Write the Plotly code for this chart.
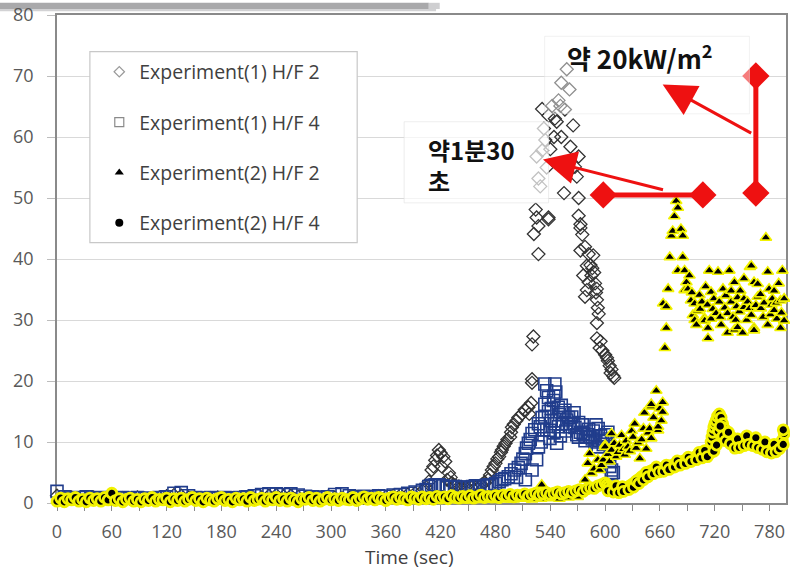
import plotly.graph_objects as go

# ---------------------------------------------------------------
# Heat release measurements (kW/m^2) against time (sec)
# ---------------------------------------------------------------

# Experiment(1) H/F 2 - baseline sampled every 8 s (0-400 s)
exp1_hf2_base_t = list(range(0, 401, 8))
exp1_hf2_base_v = [1.2, 0.8, 0.9, 0.7, 0.8, 0.9, 0.7, 0.8, 0.6, 0.8,
                   0.7, 0.9, 0.7, 0.8, 0.9, 1.1, 1.3, 1.2, 0.9, 0.8,
                   0.7, 0.8, 0.9, 0.7, 0.8, 0.9, 0.8, 0.7, 0.9, 1.2,
                   1.3, 1.1, 1.2, 1.0, 0.9, 0.8, 0.9, 1.0, 0.9, 0.8,
                   0.9, 1.0, 0.9, 1.0, 1.1, 1.0, 1.2, 1.3, 1.4, 1.6,
                   2.0]
# Experiment(1) H/F 2 - ignition and peak (t, value)
exp1_hf2_peak = [
    (404, 2.6), (407, 3.5), (410, 5.4), (412, 6.0), (414, 7.0), (416, 7.8),
    (418, 8.7), (420, 8.2), (421, 6.0), (423, 7.6), (425, 6.8), (427, 3.8),
    (429, 4.9), (431, 4.2), (432, 3.3), (434, 3.0), (437, 2.8), (440, 2.7),
    (443, 2.6), (447, 2.5), (450, 2.4), (454, 2.5), (458, 2.5), (462, 2.7),
    (465, 3.0), (468, 3.4), (472, 3.8), (474, 4.6), (476, 5.4), (478, 6.0),
    (480, 6.5), (482, 7.2), (484, 7.6), (486, 8.3), (487, 8.7), (489, 9.3),
    (491, 9.8), (493, 10.4), (496, 10.8), (497, 11.6), (498, 12.4), (500, 12.9),
    (503, 13.5), (505, 14.0), (509, 14.6), (512, 15.3), (516, 15.7), (517, 14.6),
    (519, 16.4), (520, 19.7), (520, 20.3), (520, 26.0), (521.5, 27.3),
    (527, 40.8), (522, 44.1), (527, 45.4), (525, 46.8), (538, 46.5), (538, 46.8),
    (524, 48.1), (529, 51.9), (527, 53.2), (525, 56.8), (531, 57.8), (534.5, 59.5),
    (533, 61.4), (544, 60.0), (538, 63.5), (531, 64.6), (542, 65.1), (551, 65.1),
    (552, 60.0), (552, 68.9), (558, 71.1), (561, 67.8), (565, 61.9), (562, 58.4),
    (547, 62.5), (549, 66.0), (545, 63.0), (556, 64.5), (540, 58.0), (536, 55.0),
    (571, 56.8), (567, 55.1), (569, 53.5), (555, 50.8), (571, 50.0), (571, 47.1),
    (573, 45.7), (573, 45.1), (575, 44.0), (578, 42.0), (573, 41.4), (582, 40.8),
    (587, 40.6), (580, 38.9), (584, 39.0), (586, 38.5), (576, 37.3), (585, 37.3),
    (588, 37.8), (582, 36.2), (589, 36.0), (580, 34.9), (591, 35.1), (590, 34.5),
    (578, 33.8), (591, 33.3), (592, 32.0), (593, 31.0), (591, 29.5), (591, 27.0),
    (595, 26.5), (597, 25.0), (594, 25.4), (600, 24.3), (602, 23.8), (603, 23.3),
    (605, 22.5), (606, 21.3), (607, 21.9), (609, 20.8), (610, 20.5),
]

# Experiment(1) H/F 4 - baseline sampled every 8 s (0-400 s)
exp1_hf4_base_t = list(range(0, 401, 8))
exp1_hf4_base_v = [1.9, 1.0, 0.8, 0.9, 1.0, 0.8, 0.9, 0.8, 0.7, 0.9,
                   0.8, 0.9, 0.8, 0.7, 0.9, 1.0, 1.6, 1.7, 1.2, 0.9,
                   0.8, 0.9, 0.8, 0.9, 0.8, 0.9, 1.0, 1.2, 1.4, 1.5,
                   1.5, 1.4, 1.5, 1.3, 1.1, 1.0, 0.9, 1.0, 1.4, 1.5,
                   1.2, 1.0, 1.1, 1.0, 1.2, 1.1, 1.3, 1.4, 1.6, 1.8,
                   2.1]
# Experiment(1) H/F 4 - ignition and peak (t, value)
exp1_hf4_peak = [
    (404, 2.2), (407, 2.7), (410, 2.9), (414, 3.0), (418, 3.0), (422, 2.8),
    (426, 2.6), (430, 2.7), (436, 2.7), (440, 2.6), (445, 2.5), (450, 2.6),
    (455, 2.7), (458, 2.8), (462, 2.7), (466, 2.8), (470, 2.9), (473, 3.0),
    (476, 3.0), (480, 3.2), (484, 3.5), (487, 3.8), (490, 4.0), (494, 4.3),
    (497, 4.8), (501, 5.4), (503, 4.2), (505, 5.8), (508, 6.5), (510, 7.2),
    (512.7, 8.1), (512.7, 3.8), (514, 9.0), (516, 9.8), (518, 10.4), (520, 11.4),
    (520, 5.4), (523, 12.0), (525, 7.1), (527, 13.0), (527, 9.2), (529, 12.5),
    (530, 10.0), (531, 14.0), (533, 12.0), (534, 14.1), (534, 16.2), (534, 19.5),
    (536, 18.4), (538, 15.0), (538, 17.3), (539.6, 10.6), (539.6, 11.9),
    (541, 13.5), (541, 15.5), (543.5, 16.8), (544, 11.5), (544, 17.5),
    (545, 19.5), (545, 13.0), (546, 18.2), (547, 9.8), (548.7, 15.7),
    (549, 12.5), (550, 14.5), (551, 11.0), (552, 16.0), (553, 13.0),
    (554, 14.8), (556, 15.2), (557, 11.8), (558, 13.6), (560, 14.0),
    (561, 12.5), (563.5, 14.1), (565, 13.0), (566, 14.8), (567, 12.4),
    (569, 11.2), (570.8, 10.8), (571, 13.2), (573, 11.6), (575, 12.8),
    (576, 11.4), (578, 10.2), (579, 10.9), (581, 11.2), (582, 12.1),
    (583.3, 10.8), (586, 10.5), (587, 11.8), (589, 10.0), (590, 12.8),
    (592.4, 12.2), (592.4, 9.2), (594, 10.2), (595, 11.0), (597, 10.5),
    (598, 9.6), (600, 11.2), (601, 10.1), (603, 11.6), (605, 6.0), (607, 5.4),
    (607, 4.8), (609, 5.0),
]

# Experiment(2) H/F 2 - baseline sampled every 10 s (0-570 s)
exp2_hf2_base_t = list(range(0, 571, 10))
exp2_hf2_base_v = [0.4, 0.3, 0.5, 0.3, 0.4, 0.2, 0.4, 0.3, 0.5, 0.3,
                   0.4, 0.3, 0.3, 0.5, 0.4, 0.3, 0.4, 0.2, 0.4, 0.3,
                   0.3, 0.4, 0.3, 0.5, 0.4, 0.3, 0.4, 0.3, 0.5, 0.4,
                   0.3, 0.4, 0.3, 0.4, 0.5, 0.3, 0.4, 0.3, 0.4, 0.5,
                   0.4, 0.5, 0.4, 0.5, 0.6, 0.4, 0.5, 0.6, 0.5, 0.6,
                   0.6, 0.7, 0.6, 0.7, 0.8, 0.7, 0.9, 1.0]
# Experiment(2) H/F 2 - ignition, flashover and steady burning (t, value)
exp2_hf2_peak = [
    (530.6, 3.0), (578, 3.8), (581, 6.5), (583, 8.1), (585, 4.9), (588, 5.6),
    (592, 7.1), (594, 5.4), (596, 6.2), (598, 7.1), (600, 9.5), (600, 9.2),
    (603, 8.0), (605, 6.8), (607, 11.4), (607, 8.7), (610, 9.8), (612, 7.6),
    (614, 8.3), (616, 9.5), (618, 11.1), (620, 8.8), (621.5, 7.9), (623, 10.2),
    (625, 9.2), (627, 8.5), (629, 11.8), (630.6, 10.8), (632.4, 13.0), (634, 9.0),
    (636, 9.9), (638, 7.3), (640, 10.4), (642, 12.2), (643, 14.8), (645, 8.9),
    (647, 11.5), (648.7, 12.2), (650, 15.8), (650.5, 10.6), (650.5, 16.2),
    (653, 14.0), (656, 18.4), (658, 11.9), (658, 12.5), (660, 15.5),
    (661.6, 13.5), (663, 16.5), (663, 14.9), (663.5, 32.7), (665.4, 25.4),
    (667, 28.7), (667, 32.2), (669, 35.1), (670.8, 40.3), (672.6, 43.8),
    (674, 44.6), (675.8, 47.0), (677.8, 49.5), (679.6, 48.4), (679.6, 38.1),
    (683, 44.9), (685, 43.8), (685, 40.3), (687, 38.1), (687, 34.9), (689, 36.2),
    (690.6, 35.1), (692.3, 37.3), (694, 33.2), (695, 34.5), (696, 30.8),
    (698, 32.7), (698, 30.0), (700, 29.2), (701, 31.5), (703.3, 34.1),
    (704, 31.8), (706, 33.0), (708.7, 30.3), (709, 29.9), (710, 35.5),
    (712, 32.5), (712.6, 28.7), (712.6, 27.0), (714, 38.1), (716, 34.6),
    (716, 30.2), (718, 31.8), (719, 33.5), (721.5, 31.1), (723.6, 37.9),
    (725, 33.0), (726, 30.5), (727, 29.2), (729, 35.1), (731, 32.0), (732, 34.0),
    (734, 31.1), (734, 27.9), (736, 38.1), (738, 33.0), (738, 34.8), (740, 30.5),
    (741.5, 36.2), (741.5, 28.4), (743, 30.0), (744, 32.2), (745, 33.7),
    (745, 28.8), (747, 31.4), (748, 34.8), (750.5, 27.9), (752, 36.8),
    (752, 33.5), (752, 32.1), (755, 30.0), (756, 33.0), (758, 31.9),
    (758.5, 38.7), (760, 38.9), (760, 30.8), (763, 36.2), (763, 28.7),
    (763, 28.3), (765, 32.4), (767, 33.8), (767, 35.9), (770, 34.2),
    (770.5, 31.9), (773, 30.5), (774, 32.8), (776, 43.5), (778, 37.9),
    (778, 29.2), (779.5, 35.1), (781, 30.9), (782, 32.5), (783, 33.5),
    (785, 31.6), (785, 34.8), (787, 32.8), (788, 30.2), (790, 36.0),
    (792, 28.7), (792, 33.2), (793, 31.2), (794, 38.1), (796, 29.9), (796, 33.5),
]

# Experiment(2) H/F 4 - baseline sampled every 4 s (0-596 s)
exp2_hf4_base_t = list(range(0, 597, 4))
exp2_hf4_base_v = [
    0.3, 0.8, 0.2, 0.7, 0.5, 0.9, 0.3, 0.6, 0.2, 0.8, 0.4, 0.7, 0.3, 0.9, 0.5, 1.6, 0.4, 0.7, 0.2, 0.6,
    0.8, 0.3, 0.6, 0.2, 0.7, 0.4, 0.9, 0.3, 0.6, 0.5, 0.8, 0.2, 0.7, 0.4, 0.8, 0.3, 0.6, 0.9, 0.4, 0.7,
    0.2, 0.8, 0.5, 0.3, 0.7, 0.9, 0.4, 0.6, 0.2, 0.8, 0.5, 0.7, 0.3, 0.9, 0.4, 0.6, 0.8, 0.3, 0.7, 0.5,
    0.9, 0.4, 0.7, 0.3, 0.8, 0.5, 0.2, 0.7, 0.6, 0.9, 0.4, 0.8, 0.3, 0.6, 0.9, 0.5, 0.7, 0.4, 0.8, 0.6,
    0.5, 0.9, 0.4, 0.7, 1.0, 0.6, 0.8, 0.5, 0.9, 0.7, 0.4, 0.8, 1.0, 0.6, 0.9, 0.7, 0.5, 1.0, 0.8, 0.6,
    1.0, 0.7, 0.9, 0.6, 1.1, 0.8, 1.0, 0.7, 1.2, 0.9, 0.8, 1.1, 0.9, 1.2, 0.8, 1.0, 1.3, 0.9, 1.1, 1.0,
    1.2, 0.9, 1.3, 1.1, 1.4, 1.0, 1.3, 1.2, 1.5, 1.1, 1.4, 1.6, 1.3, 1.5, 1.7, 1.4, 1.6, 1.8, 1.5, 1.7,
    1.9, 1.7, 2.0, 2.2, 1.9, 2.3, 2.5, 2.4, 2.8, 3.0,
]
# Experiment(2) H/F 4 - late rise (t, value)
exp2_hf4_late = [
    (600, 3.3), (602, 3.0), (604, 2.7), (607, 2.5), (610, 2.4), (613, 2.3),
    (616, 2.2), (618, 2.2), (621, 2.4), (624, 2.6), (627, 2.8), (629, 3.0),
    (632, 3.3), (635, 3.7), (638, 4.0), (640, 4.3), (643, 4.6), (646, 4.9),
    (649, 5.2), (652, 5.4), (655, 5.5), (658, 5.6), (661, 5.6), (665, 5.7),
    (668, 5.9), (671, 6.1), (674, 6.2), (677, 6.4), (680, 6.5), (683, 6.7),
    (686, 6.9), (689, 7.0), (692, 7.2), (695, 7.3), (698, 7.5), (701, 7.7),
    (704, 7.9), (707, 8.0), (710, 8.0), (713, 8.1), (716, 8.3), (716, 9.2),
    (716, 10.0), (717, 10.8), (718, 11.6), (719, 12.4), (720, 13.0),
    (721.5, 13.5), (723, 14.2), (725, 14.6), (727, 14.0), (728.7, 13.0),
    (730, 12.3), (730.6, 11.6), (733, 11.3), (736, 11.0), (738, 10.8),
    (741, 10.3), (743, 9.9), (745, 9.5), (748, 9.8), (751, 10.1), (754, 10.3),
    (756, 10.3), (759, 10.2), (761, 10.1), (763, 10.0), (766, 9.8), (769, 9.6),
    (771, 9.4), (774, 9.2), (777, 9.0), (780, 8.8), (783, 8.7), (785, 8.7),
    (788, 9.0), (790, 9.4), (792, 9.8), (794, 10.3), (796, 11.4),
    (603, 2.0), (609, 1.8), (612, 2.8), (615, 1.7), (619, 2.7), (620, 1.9),
    (626, 2.2), (631, 2.6), (634, 3.6), (637, 3.2), (642, 3.8), (645, 5.0),
    (647, 4.3), (653, 4.8), (656, 5.9), (659, 5.1), (664, 5.2), (667, 6.2),
    (670, 5.5), (676, 5.9), (679, 6.9), (682, 6.2), (688, 6.5), (691, 7.5),
    (694, 6.8), (700, 7.1), (703, 8.3), (706, 7.4), (709, 8.6), (712, 7.6),
    (719, 8.5), (722, 9.5), (724, 11.8), (726, 12.6), (729, 11.0), (732, 10.2),
    (735, 11.6), (737, 9.7), (742, 9.0), (745, 10.5), (747, 9.1), (752, 9.4),
    (755, 11.0), (757, 9.6), (762, 9.4), (765, 10.7), (767, 9.1), (772, 8.8),
    (775, 10.0), (777, 8.4), (782, 8.2), (785, 9.6), (787, 8.4), (791, 8.9),
    (795, 9.6), (795, 12.0),
]

# Red guide markers: flashover interval and heat-flux level
interval_t = [598, 707]
interval_v = [50.5, 50.5]
flux_t = [765, 765]
flux_v = [50.8, 70.0]

series_names = ["Experiment(1) H/F 2", "Experiment(1) H/F 4",
                "Experiment(2) H/F 2", "Experiment(2) H/F 4"]
x_ticks = [0, 60, 120, 180, 240, 300, 360, 420, 480, 540, 600, 660, 720, 780]
y_ticks = [0, 10, 20, 30, 40, 50, 60, 70, 80]


def join(base_t, base_v, pairs):
    xs = list(base_t) + [p[0] for p in pairs]
    ys = list(base_v) + [p[1] for p in pairs]
    return xs, ys


d_x, d_y = join(exp1_hf2_base_t, exp1_hf2_base_v, exp1_hf2_peak)
s_x, s_y = join(exp1_hf4_base_t, exp1_hf4_base_v, exp1_hf4_peak)
t_x, t_y = join(exp2_hf2_base_t, exp2_hf2_base_v, exp2_hf2_peak)
c_x, c_y = join(exp2_hf4_base_t, exp2_hf4_base_v, exp2_hf4_late)

TEXT = "Open Sans, Noto Sans, sans-serif"
KR = "Noto Sans CJK KR, sans-serif"
RED = "#ee1111"
YEL = "#f2f200"

fig = go.Figure()

plot_styles = [
    (d_x, d_y, dict(symbol="diamond-open", size=10, color="#333333",
                    line=dict(width=1.3, color="#333333"))),
    (s_x, s_y, dict(symbol="square-open", size=12, color="#213d8c",
                    line=dict(width=1.6, color="#213d8c"))),
    (t_x, t_y, dict(symbol="triangle-up", size=10, color="#000000",
                    line=dict(width=1.6, color=YEL))),
    (c_x, c_y, dict(symbol="circle", size=10, color="#000000",
                    line=dict(width=2.8, color=YEL))),
]
for xs, ys, mk in plot_styles:
    fig.add_trace(go.Scatter(x=xs, y=ys, mode="markers", marker=mk,
                             cliponaxis=False, showlegend=False,
                             hoverinfo="skip"))

# Legend entries (plain symbols)
legend_markers = [
    dict(symbol="diamond-open", size=8, color="#9a9a9a", line=dict(width=1.2, color="#9a9a9a")),
    dict(symbol="square-open", size=9, color="#8a8a8a", line=dict(width=1.2, color="#8a8a8a")),
    dict(symbol="triangle-up", size=8, color="#000000"),
    dict(symbol="circle", size=8, color="#000000"),
]
for i, (name, mk) in enumerate(zip(series_names, legend_markers)):
    fig.add_trace(go.Scatter(x=[None], y=[None], mode="markers", marker=mk,
                             name=name, legendgroup=f"g{i}", showlegend=True))

# Red guides
for xs, ys in [(interval_t, interval_v), (flux_t, flux_v)]:
    fig.add_trace(go.Scatter(x=xs, y=ys, mode="lines+markers",
                             line=dict(color=RED, width=5),
                             marker=dict(symbol="diamond", size=21, color=RED),
                             cliponaxis=False, showlegend=False,
                             hoverinfo="skip"))

shapes = [
    # legend frame
    dict(type="rect", xref="x", yref="y", x0=36.0, x1=328.6, y0=42.7, y1=74.0,
         fillcolor="white", line=dict(color="#c8c8c8", width=1.2), layer="above"),
    # label panels
    dict(type="rect", xref="x", yref="y", x0=533.8, x1=758.0, y0=63.8, y1=76.5,
         fillcolor="rgba(255,255,255,0.45)", line=dict(color="rgba(230,230,230,0.5)", width=1),
         layer="above"),
    dict(type="rect", xref="x", yref="y", x0=380.0, x1=538.1, y0=49.2, y1=62.5,
         fillcolor="rgba(255,255,255,0.7)", line=dict(color="rgba(225,225,225,0.6)", width=1),
         layer="above"),
    # grey strip along the top edge
    dict(type="rect", xref="paper", yref="paper", x0=-0.08, x1=0.51, y0=1.0122, y1=1.025,
         fillcolor="#a9a9ab", line=dict(width=0), layer="below"),
    dict(type="rect", xref="paper", yref="paper", x0=-0.08, x1=0.52, y0=1.0075, y1=1.0122,
         fillcolor="#d2d2d4", line=dict(width=0), layer="below"),
    dict(type="rect", xref="paper", yref="paper", x0=0.51, x1=0.525, y0=1.0122, y1=1.025,
         fillcolor="#cfcfd1", line=dict(width=0), layer="below"),
]

annotations = [
    dict(x=637.5, y=73.2, xref="x", yref="y", text="약 20kW/m<sup>2</sup>",
         showarrow=False, font=dict(family=KR, size=26, color="#111111", weight="bold")),
    dict(x=403.9, y=55.4, xref="x", yref="y", text="약1분30<br>초", xanchor="left",
         align="left", showarrow=False,
         font=dict(family=KR, size=24, color="#111111", weight="bold")),
    dict(x=532, y=56.3, ax=665, ay=51.3, xref="x", yref="y", axref="x", ayref="y",
         text="", showarrow=True, arrowhead=2, arrowsize=2.2, arrowwidth=3,
         arrowcolor=RED, standoff=0),
    dict(x=663, y=68.6, ax=761.5, ay=60.5, xref="x", yref="y", axref="x", ayref="y",
         text="", showarrow=True, arrowhead=2, arrowsize=2.2, arrowwidth=3,
         arrowcolor=RED, standoff=0),
    dict(x=0.484, y=-0.11, xref="paper", yref="paper", text="Time (sec)",
         showarrow=False, yanchor="middle",
         font=dict(family=TEXT, size=19, color="#404040")),
]

fig.update_layout(
    width=790, height=575,
    margin=dict(l=57, r=2, t=11, b=72),
    paper_bgcolor="white", plot_bgcolor="white",
    font=dict(family=TEXT, color="#595959"),
    showlegend=True,
    legend=dict(x=0.058, y=0.923, xanchor="left", yanchor="top",
                bgcolor="rgba(0,0,0,0)", borderwidth=0,
                font=dict(family=TEXT, size=19.5, color="#404040"),
                tracegroupgap=22, itemwidth=30),
    shapes=shapes,
    annotations=annotations,
    xaxis=dict(range=[0, 798], tickmode="array", tickvals=x_ticks,
               ticks="outside", ticklen=6, tickcolor="#8a8a8a",
               showline=True, linecolor="#8a8a8a", linewidth=1.5, mirror=True,
               showgrid=False, zeroline=False, layer="below traces",
               tickfont=dict(family=TEXT, size=18, color="#595959"),
               ticklabelstandoff=6, ticklabeloverflow="allow",
               minor=dict(dtick=30, tick0=0, ticks="outside", ticklen=6,
                          tickcolor="#8a8a8a", showgrid=False)),
    yaxis=dict(range=[0, 80], tickmode="array", tickvals=y_ticks,
               ticks="outside", ticklen=8, tickcolor="#bdbdbd",
               showline=True, linecolor="#8a8a8a", linewidth=1.5, mirror=True,
               showgrid=True, gridcolor="#d9d9d9", gridwidth=1,
               zeroline=False, layer="below traces",
               tickfont=dict(family=TEXT, size=18, color="#595959"),
               ticklabelstandoff=10, ticklabeloverflow="allow"),
)

fig.write_html("out.html")
